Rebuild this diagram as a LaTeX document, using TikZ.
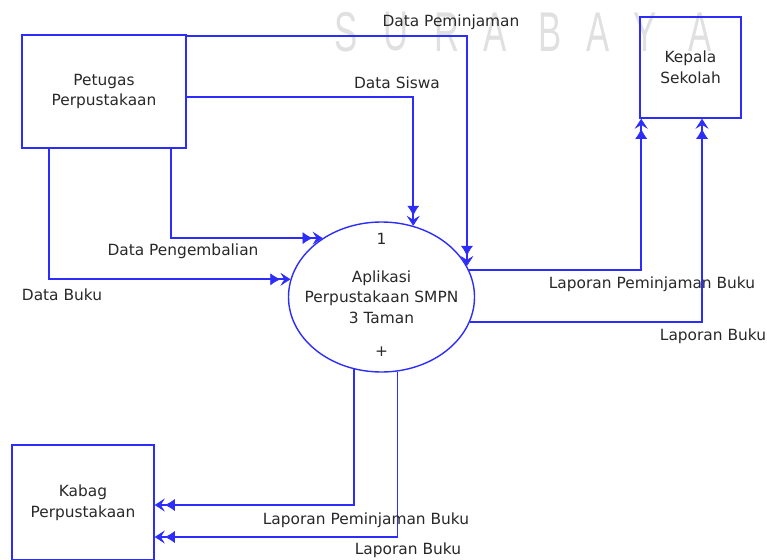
\documentclass[tikz,border=0pt]{standalone}
\usepackage{fontspec}
\setmainfont{DejaVu Sans}
\newfontfamily\wmfont{Liberation Sans}
\usetikzlibrary{arrows.meta,shapes.geometric,calc}
\definecolor{lineblue}{RGB}{45,45,250}
\definecolor{txt}{RGB}{40,40,40}
\begin{document}
\begin{tikzpicture}[x=1pt,y=-1pt,
  every node/.style={font=\fontsize{15.4}{20.5}\selectfont, text=txt},
  ent/.style={draw=lineblue, line width=1.6pt, align=center, inner sep=0pt},
  proc/.style={draw=lineblue, line width=1.4pt, ellipse, inner sep=0pt, minimum width=186pt, minimum height=150pt},
  flow/.style={draw=lineblue, line width=1.7pt, -{Latex[length=10pt,width=12pt,line width=0.6pt] Stealth[length=10pt,width=13pt,inset=4pt,line width=0.6pt]}},
  lbl/.style={inner sep=0pt},
  wm/.style={inner sep=0pt, text=black!12, font=\wmfont\fontsize{56}{56}\selectfont}]
\useasboundingbox (0,0) rectangle (767,559);
% watermark
\foreach \x/\c [count=\i] in {346/S,396/U,447/R,495/A,550/B,598/A,645/Y,700/A}
  \node[wm] (wm\i) at (\x,32) {\scalebox{0.62}[1]{\c}};
% entities
\node[ent, minimum width=164pt, minimum height=113pt] (pet) at (104,91.5) {Petugas\\Perpustakaan};
\node[ent, minimum width=101pt, minimum height=101pt] (kep) at (690.5,67.5) {Kepala\\Sekolah};
\node[ent, minimum width=142pt, minimum height=115pt] (kab) at (83,502.5) {Kabag\\Perpustakaan};
% process
\node[proc] (ell) at (381.5,297) {};
\node[lbl, align=center] (ttl) at (381.5,297) {Aplikasi\\Perpustakaan SMPN\\3 Taman};
\node[lbl] (num) at (381.5,239) {1};
\node[lbl] (plus) at (381.5,352) {+};
% flows
\draw[flow] ([yshift=-2pt]pet.north east) -| (ell.20);
\draw[flow] ([yshift=-5.5pt]pet.east) -| (ell.66);
\draw[flow] ([xshift=67pt]pet.south) |- (ell.135);
\draw[flow] ([xshift=-55pt]pet.south) |- (ell.169);
\draw[flow] (ell.17) -| ([xshift=2pt]kep.south west);
\draw[flow] (ell.-16) -| ([xshift=11.5pt]kep.south);
\draw[flow] (ell.249) |- ([yshift=-2.5pt]kab.east);
\draw[flow] (ell.282) |- ([yshift=-34.5pt]kab.east);
% labels
\node[lbl] (l1) at (451,22) {Data Peminjaman};
\node[lbl] (l2) at (397,83) {Data Siswa};
\node[lbl] (l3) at (183,251) {Data Pengembalian};
\node[lbl] (l4) at (62,295) {Data Buku};
\node[lbl] (l5) at (652,284) {Laporan Peminjaman Buku};
\node[lbl] (l6) at (713,336) {Laporan Buku};
\node[lbl] (l7) at (366,520) {Laporan Peminjaman Buku};
\node[lbl] (l8) at (408,550) {Laporan Buku};
\end{tikzpicture}
\end{document}
